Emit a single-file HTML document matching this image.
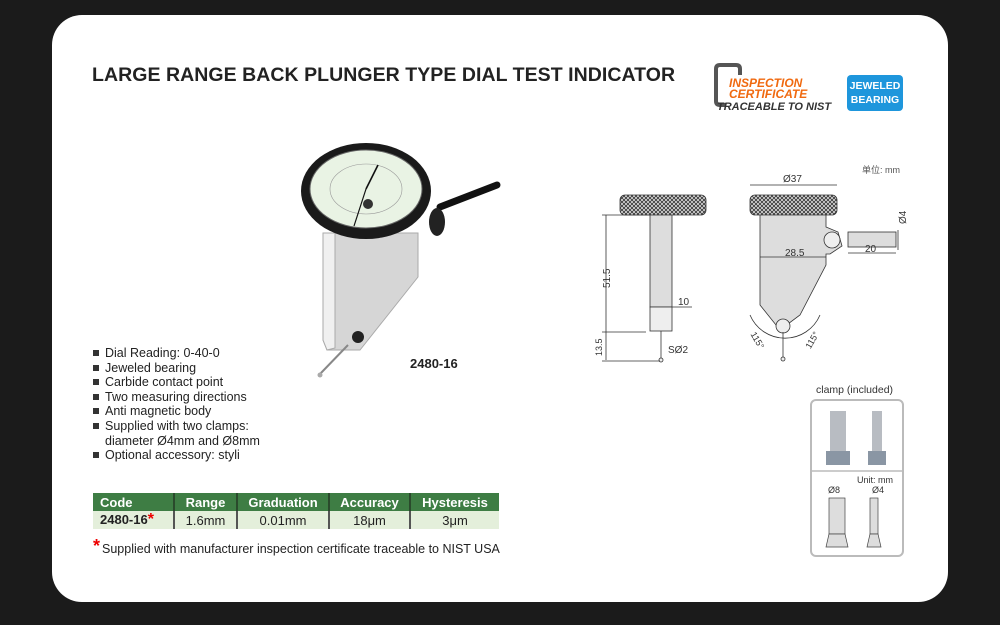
<!DOCTYPE html>
<html><head><meta charset="utf-8"><style>
body{margin:0;width:1000px;height:625px;background:#1b1b1b;overflow:hidden;font-family:"Liberation Sans",Arial,sans-serif;position:relative}
.card{position:absolute;left:52px;top:15px;width:896px;height:587px;background:#fff;border-radius:30px}
.a{position:absolute;white-space:nowrap}
ul{position:absolute;left:91px;top:346px;margin:0;padding:0;list-style:none;font-size:12.5px;line-height:14.6px;color:#222}
ul li{padding-left:14px;position:relative}
ul li:before{content:"";position:absolute;left:2px;top:4px;width:6px;height:6px;background:#333}
table{position:absolute;left:93px;top:493px;border-collapse:collapse;font-size:13px}
th{background:#3e7d44;color:#fff;height:18px;padding:0;font-weight:bold;border-left:2px solid #2a4a2c}
td{background:#e4efdb;height:18px;padding:0;text-align:center;color:#222;border-left:2px solid #555}
th:first-child,td:first-child{border-left:none;text-align:left;padding-left:7px}
</style></head><body>
<div class="card"></div>
<div class="a" style="left:92px;top:64px;font-size:19.5px;font-weight:bold;color:#222;letter-spacing:0.05px">LARGE RANGE BACK PLUNGER TYPE DIAL TEST INDICATOR</div>
<svg class="a" style="left:714px;top:63px" width="120" height="52"><path d="M12 42 L6 42 Q2 42 2 38 L2 6 Q2 2 6 2 L22 2 Q26 2 26 6 L26 12" fill="none" stroke="#555" stroke-width="4"/></svg>
<div class="a" style="left:729px;top:78px;font-size:12px;font-weight:bold;font-style:italic;color:#f06a10;line-height:11px">INSPECTION<br>CERTIFICATE</div>
<div class="a" style="left:717px;top:101px;font-size:11px;font-weight:bold;font-style:italic;color:#333">TRACEABLE TO NIST</div>
<div class="a" style="left:847px;top:75px;width:56px;height:36px;background:#1e96dc;border-radius:4px;color:#fff;font-size:10.5px;font-weight:bold;text-align:center;line-height:14px;padding-top:4px;box-sizing:border-box">JEWELED<br>BEARING</div>
<svg class="a" style="left:290px;top:120px" width="220" height="270">
<line x1="150" y1="87" x2="207" y2="65" stroke="#111" stroke-width="7" stroke-linecap="round"/>
<polygon points="33,113 128,113 128,157 78,220 70,230 37,230 33,220" fill="#d6d6d6" stroke="#aaa"/>
<polygon points="33,113 45,113 45,228 37,230 33,220" fill="#f0f0f0" stroke="#aaa"/>
<circle cx="68" cy="217" r="6" fill="#222"/>
<line x1="58" y1="225" x2="30" y2="254" stroke="#888" stroke-width="2"/>
<circle cx="30" cy="255" r="2.5" fill="#aaa"/>
<ellipse cx="147" cy="102" rx="8" ry="14" fill="#222"/>
<ellipse cx="76" cy="71" rx="65" ry="48" fill="#1a1a1a"/>
<ellipse cx="76" cy="69" rx="56" ry="39" fill="#e9f3e4" stroke="#666"/>
<ellipse cx="76" cy="69" rx="36" ry="25" fill="none" stroke="#999" stroke-width="0.6"/>
<line x1="76" y1="69" x2="88" y2="45" stroke="#111" stroke-width="1.6"/>
<line x1="76" y1="69" x2="64" y2="106" stroke="#111" stroke-width="1.2"/>
<circle cx="78" cy="84" r="5" fill="#333"/>
</svg>
<div class="a" style="left:410px;top:356px;font-size:13px;font-weight:bold;color:#222">2480-16</div>
<ul><li>Dial Reading: 0-40-0</li><li>Jeweled bearing</li><li>Carbide contact point</li><li>Two measuring directions</li><li>Anti magnetic body</li><li>Supplied with two clamps:<br>diameter Ø4mm and Ø8mm</li><li>Optional accessory: styli</li></ul>
<table><tr><th style="width:73px">Code</th><th style="width:61px">Range</th><th style="width:90px">Graduation</th><th style="width:79px">Accuracy</th><th style="width:88px">Hysteresis</th></tr>
<tr><td style="font-weight:bold">2480-16<span style="color:#e00;font-size:16px">*</span></td><td>1.6mm</td><td>0.01mm</td><td>18μm</td><td>3μm</td></tr></table>
<div class="a" style="left:93px;top:536px;color:#e00;font-size:18px;font-weight:bold">*</div>
<div class="a" style="left:102px;top:542px;font-size:12.5px;color:#222">Supplied with manufacturer inspection certificate traceable to NIST USA</div>
<div class="a" style="left:862px;top:163px;font-size:9px;color:#555">单位: mm</div>
<svg class="a" style="left:580px;top:160px" width="330" height="210" font-family="Liberation Sans" font-size="10" fill="#333">
<defs><pattern id="k" width="4" height="4" patternUnits="userSpaceOnUse"><rect width="4" height="4" fill="#ddd"/><path d="M0 0L4 4M4 0L0 4" stroke="#333" stroke-width="0.8"/></pattern></defs>
<g stroke="#333" stroke-width="0.8">
<rect x="40" y="35" width="86" height="20" rx="5" fill="url(#k)"/>
<rect x="70" y="55" width="22" height="92" fill="#ddd"/>
<rect x="70" y="147" width="22" height="24" fill="#eee"/>
<line x1="81" y1="171" x2="81" y2="198"/><circle cx="81" cy="200" r="2" fill="#eee"/>
<line x1="26" y1="55" x2="26" y2="200"/><line x1="22" y1="55" x2="70" y2="55"/><line x1="22" y1="172" x2="66" y2="172"/><line x1="22" y1="201" x2="80" y2="201"/>
<line x1="92" y1="147" x2="112" y2="147"/>
<rect x="170" y="35" width="87" height="20" rx="5" fill="url(#k)"/>
<polygon points="180,55 246,55 246,67 258,72 262,86 250,94 246,94 246,105 220,155 200,170 180,145" fill="#ddd"/>
<circle cx="252" cy="80" r="8" fill="#eee"/>
<rect x="268" y="72" width="48" height="15" fill="#ddd"/>
<circle cx="203" cy="166" r="7" fill="#eee"/>
<line x1="203" y1="172" x2="203" y2="197"/><circle cx="203" cy="199" r="2" fill="#eee"/>
<path d="M170 155 A38 38 0 0 0 240 155" fill="none"/>
<line x1="170" y1="25" x2="257" y2="25"/><line x1="180" y1="97" x2="246" y2="97"/><line x1="268" y1="93" x2="316" y2="93"/><line x1="318" y1="70" x2="318" y2="90"/>
</g>
<text x="10" y="128" transform="rotate(-90 20 118)">51.5</text>
<text x="6" y="192" transform="rotate(-90 16 186)" font-size="9">13.5</text>
<text x="98" y="145">10</text><text x="88" y="193">SØ2</text>
<text x="203" y="22">Ø37</text><text x="205" y="96">28.5</text><text x="285" y="92">20</text>
<text x="316" y="66" transform="rotate(-90 320 60)">Ø4</text>
<text x="168" y="182" font-size="9" transform="rotate(60 176 180)">115°</text>
<text x="222" y="185" font-size="9" transform="rotate(-60 230 180)">115°</text>
</svg>
<div class="a" style="left:816px;top:384px;font-size:10.5px;color:#333">clamp (included)</div>
<svg class="a" style="left:810px;top:399px" width="94" height="158" font-family="Liberation Sans" font-size="9" fill="#333">
<rect x="1" y="1" width="92" height="156" rx="5" fill="#fff" stroke="#bbb" stroke-width="2"/>
<line x1="1" y1="72" x2="93" y2="72" stroke="#bbb" stroke-width="1.5"/>
<rect x="20" y="12" width="16" height="46" fill="#b8bcc2"/><rect x="16" y="52" width="24" height="14" fill="#8a96a4"/>
<rect x="62" y="12" width="10" height="46" fill="#b8bcc2"/><rect x="58" y="52" width="18" height="14" fill="#8a96a4"/>
<text x="47" y="84">Unit: mm</text><text x="18" y="94">Ø8</text><text x="62" y="94">Ø4</text>
<g stroke="#444" stroke-width="0.7" fill="#ddd"><rect x="19" y="99" width="16" height="36"/><polygon points="19,135 35,135 38,148 16,148"/><rect x="60" y="99" width="8" height="36"/><polygon points="60,135 68,135 71,148 57,148"/></g>
</svg>
</body></html>
